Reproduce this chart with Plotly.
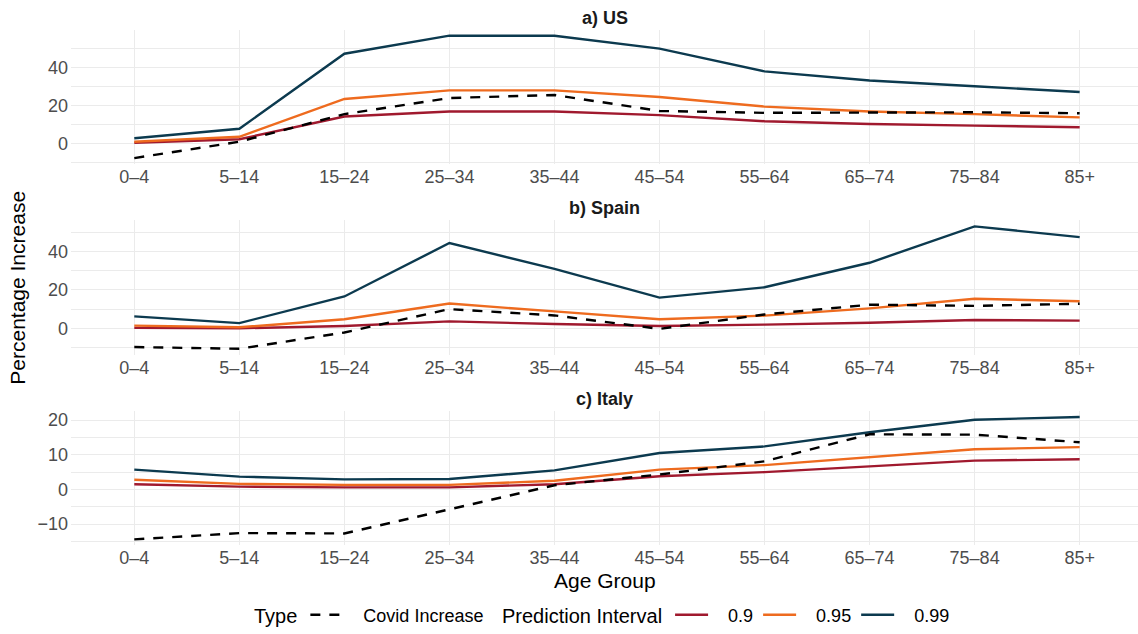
import plotly.graph_objects as go

# Age groups on the shared categorical x axis
age_groups = ["0–4", "5–14", "15–24", "25–34", "35–44",
              "45–54", "55–64", "65–74", "75–84", "85+"]

# a) US
us_covid = [-7.8, 0.8, 15.3, 23.8, 25.4, 17.0, 16.0, 16.0, 16.3, 15.8]
us_pi90 = [0.3, 2.1, 14.1, 16.7, 16.7, 14.8, 11.6, 10.1, 9.3, 8.4]
us_pi95 = [0.8, 3.4, 23.3, 27.8, 27.8, 24.3, 19.3, 16.7, 15.3, 13.6]
us_pi99 = [2.6, 7.6, 47.1, 56.6, 56.6, 49.8, 37.8, 33.0, 30.0, 27.0]

# b) Spain
spain_covid = [-9.8, -10.7, -2.2, 10.0, 6.7, -0.3, 7.2, 12.3, 11.7, 12.8]
spain_pi90 = [0.2, 0.0, 1.2, 3.6, 2.2, 1.2, 1.9, 2.9, 4.3, 4.0]
spain_pi95 = [1.4, 0.5, 4.7, 12.9, 8.8, 4.7, 6.6, 10.4, 15.4, 14.1]
spain_pi99 = [6.2, 2.7, 16.6, 44.5, 31.0, 16.0, 21.4, 34.2, 53.2, 47.6]

# c) Italy
italy_covid = [-14.4, -12.6, -12.7, -5.7, 1.2, 4.3, 8.1, 15.9, 15.8, 13.6]
italy_pi90 = [1.5, 0.8, 0.6, 0.6, 1.5, 3.8, 5.0, 6.6, 8.3, 8.7]
italy_pi95 = [2.8, 1.6, 1.3, 1.3, 2.5, 5.7, 7.0, 9.3, 11.6, 12.2]
italy_pi99 = [5.7, 3.7, 2.9, 3.0, 5.5, 10.5, 12.4, 16.5, 20.1, 20.9]

panel_titles = ["a) US", "b) Spain", "c) Italy"]
interval_labels = ["0.9", "0.95", "0.99"]
covid_label = "Covid Increase"

panels = [
    (us_covid, [us_pi90, us_pi95, us_pi99]),
    (spain_covid, [spain_pi90, spain_pi95, spain_pi99]),
    (italy_covid, [italy_pi90, italy_pi95, italy_pi99]),
]

# styling
W, H = 1138, 634
LEFT = 71
interval_colors = ["#A0192E", "#EE6B1F", "#0C3A4F"]
grid_col = "#EBEBEB"
tick_col = "#4D4D4D"
FONT = "Liberation Sans, Arial, sans-serif"
panel_tops = [29.8, 222.0, 414.1]
panel_h = 135.7
major_step = [20, 20, 10]
KEY_GAP = "\u00a0\u00a0\u00a0"  # extra room between legend key and its label

fig = go.Figure()

for i, (covid, intervals) in enumerate(panels):
    sfx = "" if i == 0 else str(i + 1)
    for j, vals in enumerate(intervals):
        fig.add_trace(go.Scatter(
            x=age_groups, y=vals, mode="lines",
            line=dict(color=interval_colors[j], width=2.4),
            name=KEY_GAP + interval_labels[j], legendgroup=interval_labels[j],
            showlegend=(i == 0), legend="legend2",
            xaxis="x" + sfx, yaxis="y" + sfx,
        ))
    fig.add_trace(go.Scatter(
        x=age_groups, y=covid, mode="lines",
        line=dict(color="black", width=2.4, dash="10px,9px"),
        name=KEY_GAP + covid_label, legendgroup="covid",
        showlegend=(i == 0), legend="legend",
        xaxis="x" + sfx, yaxis="y" + sfx,
    ))

    # free y scale with 5% padding around the panel's data
    all_vals = covid + [v for s in intervals for v in s]
    lo, hi = min(all_vals), max(all_vals)
    pad = 0.05 * (hi - lo)
    top = panel_tops[i]
    dom = [1 - (top + panel_h) / H, 1 - top / H]

    fig.layout["xaxis" + sfx] = dict(
        type="category", range=[(LEFT - 134.3) / 105.04, (W - 134.3) / 105.04],
        anchor="y" + sfx, showgrid=True, gridcolor=grid_col, gridwidth=1.1,
        zeroline=False, showline=False, ticks="", automargin=False,
        tickfont=dict(family=FONT, size=18, color=tick_col),
        ticklabelstandoff=0,
    )
    fig.layout["yaxis" + sfx] = dict(
        domain=dom, range=[lo - pad, hi + pad], anchor="x" + sfx,
        dtick=major_step[i], tick0=0,
        showgrid=True, gridcolor=grid_col, gridwidth=1.1,
        minor=dict(dtick=major_step[i] / 2, tick0=0, showgrid=True,
                   gridcolor=grid_col, gridwidth=0.6),
        zeroline=False, showline=False, ticks="", automargin=False,
        tickfont=dict(family=FONT, size=18, color=tick_col),
        ticklabelstandoff=2,
    )

    fig.add_annotation(
        text="<b>" + panel_titles[i] + "</b>", xref="paper", yref="paper",
        x=0.5, y=1 - (top - 12) / H, xanchor="center", yanchor="middle",
        showarrow=False, font=dict(family=FONT, size=18, color="#1A1A1A"),
    )

fig.add_annotation(
    text="Percentage Increase", xref="paper", yref="paper",
    x=(18 - LEFT) / (W - LEFT), y=1 - 290 / H, textangle=-90,
    xanchor="center", yanchor="middle", showarrow=False,
    font=dict(family=FONT, size=21, color="black"),
)
fig.add_annotation(
    text="Age Group", xref="paper", yref="paper",
    x=0.5, y=1 - 585 / H, xanchor="center", yanchor="middle",
    showarrow=False, font=dict(family=FONT, size=21, color="black"),
)

legend_common = dict(
    orientation="h", yanchor="middle", y=1 - 620 / H, xanchor="left",
    bgcolor="rgba(0,0,0,0)", itemwidth=33,
    font=dict(family=FONT, size=18, color="black"),
)
fig.update_layout(
    width=W, height=H,
    margin=dict(l=LEFT, r=0, t=0, b=0),
    paper_bgcolor="white", plot_bgcolor="white",
    template="none",
    showlegend=True,
    legend=dict(**legend_common, x=(252 - LEFT) / (W - LEFT),
                title=dict(text="Type", side="left",
                           font=dict(family=FONT, size=20, color="black"))),
    legend2=dict(**legend_common, x=(500 - LEFT) / (W - LEFT),
                 title=dict(text="Prediction Interval", side="left",
                            font=dict(family=FONT, size=20, color="black"))),
)

fig.write_html("out.html")
